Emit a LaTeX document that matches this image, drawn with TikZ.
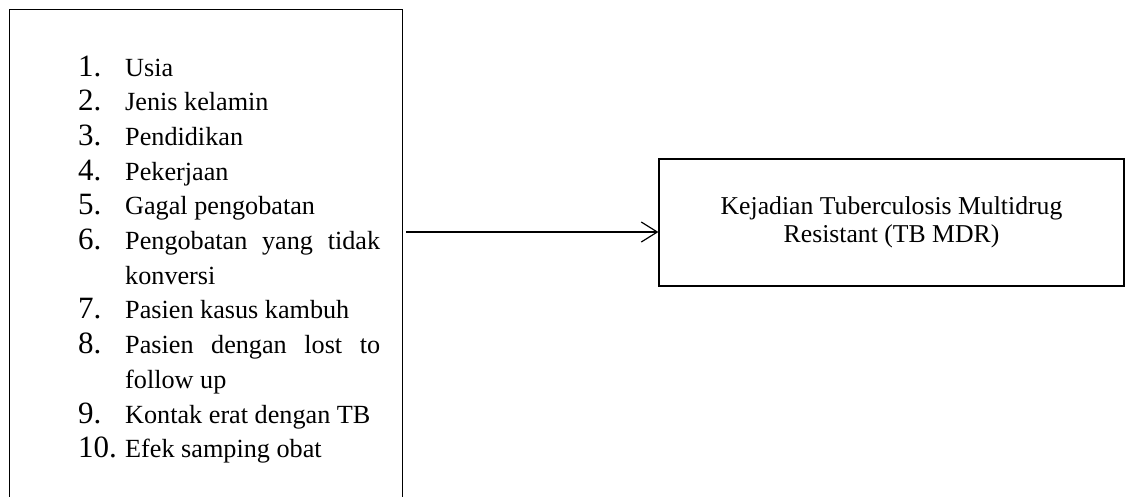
\documentclass[tikz,border=0pt]{standalone}
\usepackage{fontspec}
\setmainfont{Liberation Serif}
\usepackage{tikz}
\usetikzlibrary{arrows.meta, positioning, calc}

\newcommand{\itemnum}[1]{\noindent\hangindent=47pt\hangafter=1\makebox[47pt][l]{\fontsize{31}{34.7}\selectfont #1}}

\begin{document}
\begin{tikzpicture}[x=1pt,y=1pt,yscale=-1,xscale=1]
\useasboundingbox (0,0) rectangle (1125,496);
\clip (0,0) rectangle (1125,496);

%Shape: Rectangle [id:faktorbox]
\draw (9,9) node [anchor=north west, draw, line width=1.2, minimum width=393pt, minimum height=520pt, inner sep=0pt] (faktorbox) {};

% Text Node
\draw (78,76) node [anchor=base west, inner sep=0pt, text width=302pt, align=justify, font=\fontsize{26.2}{34.7}\selectfont] (faktor) {\hyphenpenalty=10000
\itemnum{1.}Usia\par
\itemnum{2.}Jenis kelamin\par
\itemnum{3.}Pendidikan\par
\itemnum{4.}Pekerjaan\par
\itemnum{5.}Gagal pengobatan\par
\itemnum{6.}Pengobatan yang tidak\linebreak konversi\par
\itemnum{7.}Pasien kasus kambuh\par
\itemnum{8.}Pasien dengan lost to\linebreak follow up\par
\itemnum{9.}Kontak erat dengan TB\par
\itemnum{10.}Efek samping obat\par};

%Shape: Rectangle [id:tbmdr]
\draw (891.5,222.5) node [draw, line width=1.2, minimum width=465pt, minimum height=127pt, align=center, font=\fontsize{25.7}{27.5}\selectfont] (tbmdr) {Kejadian Tuberculosis Multidrug\\Resistant (TB MDR)};

%Straight Lines [id:panah]
\coordinate (arrstart) at (406,232);
\draw [line width=1.2, -{Straight Barb[length=16pt,width=20pt]}] (arrstart) -- (arrstart -| tbmdr.west);

\end{tikzpicture}
\end{document}
